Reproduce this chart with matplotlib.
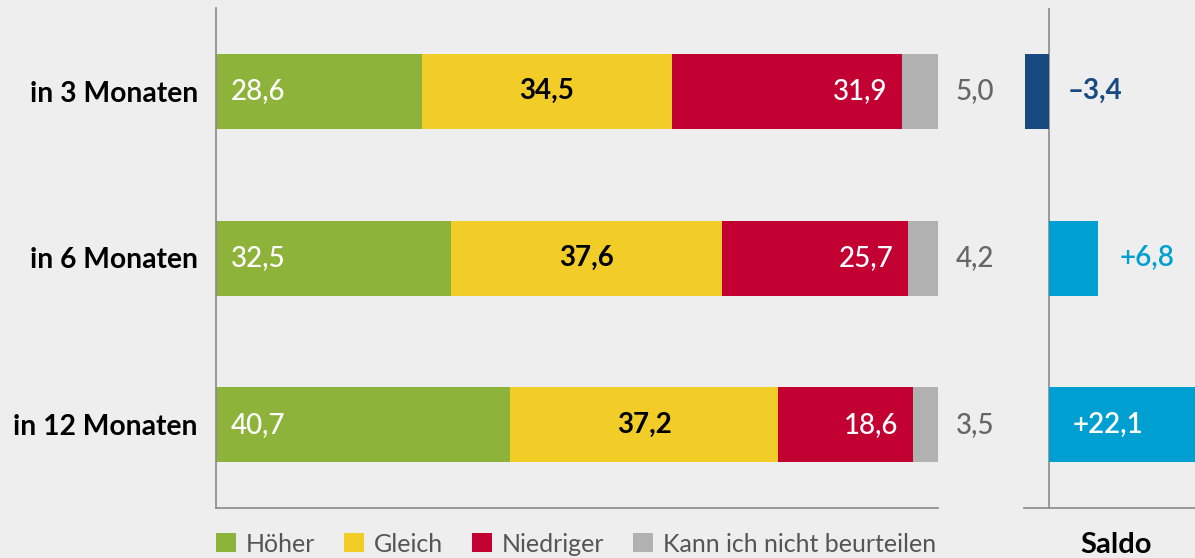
import matplotlib
matplotlib.use("Agg")
import matplotlib.pyplot as plt
from matplotlib.patches import Patch

categories = ["in 3 Monaten", "in 6 Monaten", "in 12 Monaten"]
hoeher = [28.6, 32.5, 40.7]
gleich = [34.5, 37.6, 37.2]
niedriger = [31.9, 25.7, 18.6]
kann_nicht = [5.0, 4.2, 3.5]
saldo = [-3.4, 6.8, 22.1]
series_names = ["Höher", "Gleich", "Niedriger", "Kann ich nicht beurteilen"]

BG = "#eeeeee"
C_GREEN = "#8db33a"
C_YELLOW = "#f2cd27"
C_RED = "#c20032"
C_GRAY = "#b1b1b1"
C_DARK = "#174a80"
C_LIGHT = "#009fd1"
SPINE = "#8a8a8a"

plt.rcParams["font.family"] = ["Lato", "DejaVu Sans"]

W, H = 1195, 558
fig = plt.figure(figsize=(W / 100, H / 100), dpi=100, facecolor=BG)

ax = fig.add_axes([216 / W, 50 / H, 722 / W, 500 / H], facecolor=BG)
ax2 = fig.add_axes([1024 / W, 50 / H, 171 / W, 500 / H], facecolor=BG)

y = list(range(len(categories)))
bh = 0.45
left = [0.0] * len(y)
for vals, col in zip([hoeher, gleich, niedriger, kann_nicht], [C_GREEN, C_YELLOW, C_RED, C_GRAY]):
    ax.barh(y, vals, left=left, height=bh, color=col, linewidth=0)
    left = [l + v for l, v in zip(left, vals)]

fmt = lambda v: f"{v:.1f}".replace(".", ",")
fs = 20
for i in y:
    ax.text(2.0, i, fmt(hoeher[i]), color="white", fontsize=fs, fontweight="medium",
            ha="left", va="center")
    ax.text(hoeher[i] + gleich[i] / 2, i, fmt(gleich[i]), color="black", fontsize=fs,
            fontweight="bold", ha="center", va="center")
    ax.text(hoeher[i] + gleich[i] + niedriger[i] - 2.0, i, fmt(niedriger[i]), color="white",
            fontsize=fs, fontweight="medium", ha="right", va="center")
    ax.text(105.1, i, fmt(kann_nicht[i]), color="#666666", fontsize=fs, fontweight="medium",
            ha="center", va="center", clip_on=False)

ax.set_xlim(0, 100)
ax.set_ylim(2.5, -0.5)
ax.set_yticks(y)
ax.set_yticklabels(categories, fontsize=20.3, fontweight="bold", color="black")
ax.tick_params(axis="y", length=0, pad=13)
ax.set_xticks([])
for s in ["top", "right"]:
    ax.spines[s].set_visible(False)
for s in ["left", "bottom"]:
    ax.spines[s].set_color(SPINE)
    ax.spines[s].set_linewidth(1.2)

# Saldo panel
scol = [C_DARK if v < 0 else C_LIGHT for v in saldo]
ax2.barh(y, saldo, height=bh, color=scol, linewidth=0)
ax2.set_xlim(-3.5, 20.2)
ax2.set_ylim(2.5, -0.5)
ax2.set_xticks([])
ax2.set_yticks([])
for s in ["top", "right", "left"]:
    ax2.spines[s].set_visible(False)
ax2.spines["bottom"].set_color(SPINE)
ax2.spines["bottom"].set_linewidth(1.2)
ax2.axvline(0, color=SPINE, linewidth=1.2, zorder=0)
xmax = ax2.get_xlim()[1]
for i, v in enumerate(saldo):
    txt = ("+" if v > 0 else "\u2013") + fmt(abs(v))
    if v < 0:
        ax2.text(2.6, i, txt, color=C_DARK, fontsize=fs, fontweight="bold", ha="left", va="center")
    elif v + 12 < xmax:
        ax2.text(v + 2.9, i, txt, color=C_LIGHT, fontsize=fs, fontweight="semibold", ha="left", va="center")
    else:
        ax2.text(3.2, i, txt, color="white", fontsize=fs, fontweight="semibold", ha="left", va="center")
ax2.text(0.54, -0.074, "Saldo", transform=ax2.transAxes, ha="center", va="center",
         fontsize=21, fontweight="bold", color="black")

handles = [Patch(facecolor=c, edgecolor="none") for c in [C_GREEN, C_YELLOW, C_RED, C_GRAY]]
leg = ax.legend(handles, series_names, loc="center left", bbox_to_anchor=(0.0, -0.072), ncol=4,
                frameon=False, fontsize=18, handlelength=0.8, handleheight=0.8,
                handletextpad=0.4, columnspacing=1.15, borderaxespad=0, borderpad=0)
for t in leg.get_texts():
    t.set_color("#555555")

fig.savefig("out.png", dpi=100, facecolor=BG)
